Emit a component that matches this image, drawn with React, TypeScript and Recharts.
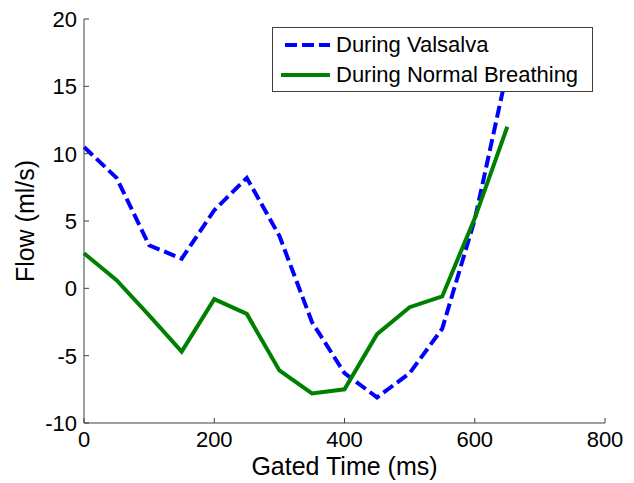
import { LineChart, Line, XAxis, YAxis, Legend } from "recharts";

const FONT = "'Liberation Sans', Arial, sans-serif";
const AXIS = "#404040";

// gated time in ms
const times = [0, 50, 100, 150, 200, 250, 300, 350, 400, 450, 500, 550, 600, 650];
const valsalva = [10.5, 8.2, 3.2, 2.2, 5.8, 8.2, 3.9, -2.5, -6.3, -8.1, -6.3, -3.0, 5.1, 16.2];
const normal = [2.6, 0.6, -2.0, -4.7, -0.8, -1.9, -6.1, -7.8, -7.5, -3.4, -1.4, -0.6, 5.2, 12.0];

const xTicks = [0, 200, 400, 600, 800];
const yTicks = [-10, -5, 0, 5, 10, 15, 20];

const data = times.map((t, i) => ({ t, valsalva: valsalva[i], normal: normal[i] }));

const BottomTick = (props: any) => {
  const { x, y, payload } = props;
  return (
    <g>
      <line x1={x} y1={y} x2={x} y2={y - 5} stroke={AXIS} />
      <text x={x} y={y + 24} textAnchor="middle" fontSize={22} fontFamily={FONT} fill="#000">
        {payload.value}
      </text>
    </g>
  );
};

const TopTick = (props: any) => {
  const { x, y } = props;
  return <line x1={x} y1={y} x2={x} y2={y + 5} stroke={AXIS} />;
};

const LeftTick = (props: any) => {
  const { x, y, payload } = props;
  return (
    <g>
      <line x1={x} y1={y} x2={x + 5} y2={y} stroke={AXIS} />
      <text x={x - 7} y={y} dy="0.36em" textAnchor="end" fontSize={22} fontFamily={FONT} fill="#000">
        {payload.value}
      </text>
    </g>
  );
};

const RightTick = (props: any) => {
  const { x, y } = props;
  return <line x1={x} y1={y} x2={x - 5} y2={y} stroke={AXIS} />;
};

const legendItems = [
  { label: "During Valsalva", color: "#0000FF", dash: "12 5", start: 4 },
  { label: "During Normal Breathing", color: "#008000", dash: undefined, start: 0 },
];

const LegendBox = () => (
  <div
    style={{
      boxSizing: "border-box",
      width: 321,
      height: 65,
      border: `1px solid ${AXIS}`,
      background: "#fff",
      padding: "2px 0 0 8px",
      fontFamily: FONT,
      fontSize: 22,
      color: "#000",
    }}
  >
    {legendItems.map((item) => (
      <div key={item.label} style={{ display: "flex", alignItems: "center", height: 30 }}>
        <svg width={49} height={8} style={{ marginRight: 6 }}>
          <line x1={item.start} y1={4} x2={49} y2={4} stroke={item.color} strokeWidth={4} strokeDasharray={item.dash} />
        </svg>
        <span style={{ whiteSpace: "nowrap", lineHeight: "30px" }}>{item.label}</span>
      </div>
    ))}
  </div>
);

export default function App() {
  return (
    <div style={{ position: "absolute", left: 0, top: 0, width: 634, height: 483, background: "#fff" }}>
      <LineChart width={634} height={483} data={data} margin={{ top: 19, right: 29, bottom: 0, left: 24 }}>
        <XAxis
          dataKey="t"
          type="number"
          domain={[0, 800]}
          ticks={xTicks}
          height={60}
          tickSize={0}
          tickMargin={0}
          tick={<BottomTick />}
          axisLine={{ stroke: AXIS }}
          label={{ value: "Gated Time (ms)", position: "insideBottom", offset: 8, fontSize: 25, fontFamily: FONT, fill: "#000" }}
        />
        <XAxis
          xAxisId="top"
          orientation="top"
          dataKey="t"
          type="number"
          domain={[0, 800]}
          ticks={xTicks}
          height={0}
          tickSize={0}
          tickMargin={0}
          tick={<TopTick />}
          axisLine={{ stroke: AXIS }}
        />
        <YAxis
          type="number"
          domain={[-10, 20]}
          ticks={yTicks}
          width={60}
          tickSize={0}
          tickMargin={0}
          tick={<LeftTick />}
          axisLine={{ stroke: AXIS }}
          label={{
            value: "Flow (ml/s)",
            angle: -90,
            position: "insideLeft",
            offset: 1,
            fontSize: 25,
            fontFamily: FONT,
            fill: "#000",
            style: { textAnchor: "middle" },
          }}
        />
        <YAxis
          yAxisId="right"
          orientation="right"
          type="number"
          domain={[-10, 20]}
          ticks={yTicks}
          width={0}
          tickSize={0}
          tickMargin={0}
          tick={<RightTick />}
          axisLine={{ stroke: AXIS }}
        />
        <Line
          type="linear"
          dataKey="valsalva"
          stroke="#0000FF"
          strokeWidth={4}
          strokeDasharray="12 5"
          dot={false}
          isAnimationActive={false}
        />
        <Line type="linear" dataKey="normal" stroke="#008000" strokeWidth={4} dot={false} isAnimationActive={false} />
        <Legend
          layout="vertical"
          align="center"
          verticalAlign="middle"
          content={<LegendBox />}
          wrapperStyle={{ top: 27, left: 272, width: 321, height: 65 }}
        />
      </LineChart>
    </div>
  );
}
